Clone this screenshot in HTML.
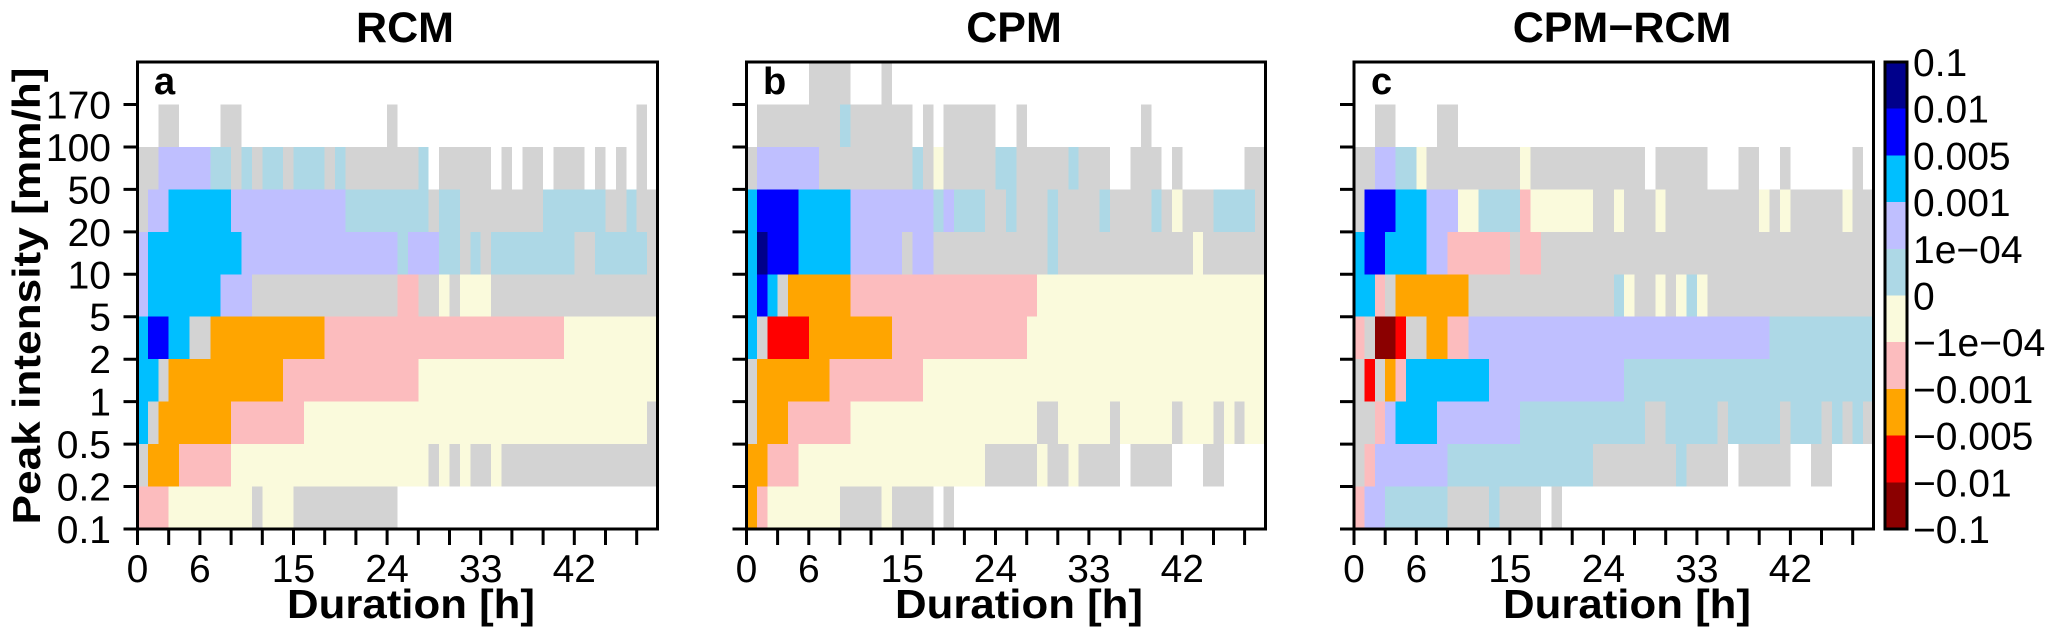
<!DOCTYPE html>
<html><head><meta charset="utf-8"><style>
body{margin:0;background:#fff}
svg{display:block;font-family:"Liberation Sans",Arial,sans-serif}
.G{fill:#d3d3d3}.L{fill:#bfbfff}.C{fill:#add8e6}.S{fill:#00bfff}.B{fill:#0000ff}.N{fill:#00008b}
.Y{fill:#fafadc}.P{fill:#fcbcbe}.O{fill:#ffa500}.R{fill:#ff0000}.D{fill:#8b0000}
.t{font-size:39px}.b{font-weight:bold}
</style></head><body>
<svg width="2050" height="642" viewBox="0 0 2050 642" xmlns="http://www.w3.org/2000/svg">
<!-- Panel a -->
<g transform="translate(137.5,62) scale(10.4,42.45)" shape-rendering="crispEdges">
<rect class="G" x="2" y="1" width="2" height="1"/><rect class="G" x="8" y="1" width="2" height="1"/><rect class="G" x="24" y="1" width="1" height="1"/><rect class="G" x="48" y="1" width="1" height="1"/>
<rect class="G" x="0" y="2" width="2" height="1"/><rect class="L" x="2" y="2" width="5" height="1"/><rect class="C" x="7" y="2" width="2" height="1"/><rect class="G" x="9" y="2" width="1" height="1"/><rect class="C" x="10" y="2" width="1" height="1"/><rect class="G" x="11" y="2" width="1" height="1"/><rect class="C" x="12" y="2" width="2" height="1"/><rect class="G" x="14" y="2" width="1" height="1"/><rect class="C" x="15" y="2" width="3" height="1"/><rect class="G" x="18" y="2" width="1" height="1"/><rect class="C" x="19" y="2" width="1" height="1"/><rect class="G" x="20" y="2" width="7" height="1"/><rect class="C" x="27" y="2" width="1" height="1"/><rect class="G" x="29" y="2" width="5" height="1"/><rect class="G" x="35" y="2" width="1" height="1"/><rect class="G" x="37" y="2" width="2" height="1"/><rect class="G" x="40" y="2" width="3" height="1"/><rect class="G" x="44" y="2" width="1" height="1"/><rect class="G" x="46" y="2" width="1" height="1"/><rect class="G" x="48" y="2" width="1" height="1"/>
<rect class="G" x="0" y="3" width="1" height="1"/><rect class="L" x="1" y="3" width="2" height="1"/><rect class="S" x="3" y="3" width="6" height="1"/><rect class="L" x="9" y="3" width="11" height="1"/><rect class="C" x="20" y="3" width="8" height="1"/><rect class="G" x="28" y="3" width="1" height="1"/><rect class="C" x="29" y="3" width="2" height="1"/><rect class="G" x="31" y="3" width="8" height="1"/><rect class="C" x="39" y="3" width="6" height="1"/><rect class="G" x="45" y="3" width="2" height="1"/><rect class="C" x="47" y="3" width="1" height="1"/><rect class="G" x="48" y="3" width="2" height="1"/>
<rect class="L" x="0" y="4" width="1" height="1"/><rect class="S" x="1" y="4" width="9" height="1"/><rect class="L" x="10" y="4" width="15" height="1"/><rect class="C" x="25" y="4" width="1" height="1"/><rect class="L" x="26" y="4" width="3" height="1"/><rect class="C" x="29" y="4" width="2" height="1"/><rect class="G" x="31" y="4" width="1" height="1"/><rect class="C" x="32" y="4" width="1" height="1"/><rect class="G" x="33" y="4" width="1" height="1"/><rect class="C" x="34" y="4" width="8" height="1"/><rect class="G" x="42" y="4" width="2" height="1"/><rect class="C" x="44" y="4" width="5" height="1"/><rect class="G" x="49" y="4" width="1" height="1"/>
<rect class="L" x="0" y="5" width="1" height="1"/><rect class="S" x="1" y="5" width="7" height="1"/><rect class="L" x="8" y="5" width="3" height="1"/><rect class="G" x="11" y="5" width="14" height="1"/><rect class="P" x="25" y="5" width="2" height="1"/><rect class="G" x="27" y="5" width="2" height="1"/><rect class="Y" x="29" y="5" width="1" height="1"/><rect class="G" x="30" y="5" width="1" height="1"/><rect class="Y" x="31" y="5" width="3" height="1"/><rect class="G" x="34" y="5" width="16" height="1"/>
<rect class="S" x="0" y="6" width="1" height="1"/><rect class="B" x="1" y="6" width="2" height="1"/><rect class="S" x="3" y="6" width="2" height="1"/><rect class="G" x="5" y="6" width="2" height="1"/><rect class="O" x="7" y="6" width="11" height="1"/><rect class="P" x="18" y="6" width="23" height="1"/><rect class="Y" x="41" y="6" width="9" height="1"/>
<rect class="S" x="0" y="7" width="2" height="1"/><rect class="G" x="2" y="7" width="1" height="1"/><rect class="O" x="3" y="7" width="11" height="1"/><rect class="P" x="14" y="7" width="13" height="1"/><rect class="Y" x="27" y="7" width="23" height="1"/>
<rect class="S" x="0" y="8" width="1" height="1"/><rect class="G" x="1" y="8" width="1" height="1"/><rect class="O" x="2" y="8" width="7" height="1"/><rect class="P" x="9" y="8" width="7" height="1"/><rect class="Y" x="16" y="8" width="33" height="1"/><rect class="G" x="49" y="8" width="1" height="1"/>
<rect class="G" x="0" y="9" width="1" height="1"/><rect class="O" x="1" y="9" width="3" height="1"/><rect class="P" x="4" y="9" width="5" height="1"/><rect class="Y" x="9" y="9" width="19" height="1"/><rect class="G" x="28" y="9" width="1" height="1"/><rect class="Y" x="29" y="9" width="1" height="1"/><rect class="G" x="30" y="9" width="1" height="1"/><rect class="Y" x="31" y="9" width="1" height="1"/><rect class="G" x="32" y="9" width="2" height="1"/><rect class="Y" x="34" y="9" width="1" height="1"/><rect class="G" x="35" y="9" width="15" height="1"/>
<rect class="P" x="0" y="10" width="3" height="1"/><rect class="Y" x="3" y="10" width="8" height="1"/><rect class="G" x="11" y="10" width="1" height="1"/><rect class="Y" x="12" y="10" width="3" height="1"/><rect class="G" x="15" y="10" width="10" height="1"/>
</g>
<!-- Panel b -->
<g transform="translate(746.5,62) scale(10.38,42.45)" shape-rendering="crispEdges">
<rect class="G" x="6" y="0" width="4" height="1"/><rect class="G" x="13" y="0" width="1" height="1"/>
<rect class="G" x="1" y="1" width="8" height="1"/><rect class="C" x="9" y="1" width="1" height="1"/><rect class="G" x="10" y="1" width="6" height="1"/><rect class="G" x="17" y="1" width="1" height="1"/><rect class="G" x="19" y="1" width="5" height="1"/><rect class="G" x="26" y="1" width="1" height="1"/><rect class="G" x="38" y="1" width="1" height="1"/>
<rect class="G" x="0" y="2" width="1" height="1"/><rect class="L" x="1" y="2" width="6" height="1"/><rect class="G" x="7" y="2" width="9" height="1"/><rect class="C" x="16" y="2" width="1" height="1"/><rect class="G" x="17" y="2" width="1" height="1"/><rect class="Y" x="18" y="2" width="1" height="1"/><rect class="G" x="19" y="2" width="5" height="1"/><rect class="C" x="24" y="2" width="2" height="1"/><rect class="G" x="26" y="2" width="5" height="1"/><rect class="C" x="31" y="2" width="1" height="1"/><rect class="G" x="32" y="2" width="3" height="1"/><rect class="G" x="37" y="2" width="3" height="1"/><rect class="G" x="41" y="2" width="1" height="1"/><rect class="G" x="48" y="2" width="2" height="1"/>
<rect class="S" x="0" y="3" width="1" height="1"/><rect class="B" x="1" y="3" width="4" height="1"/><rect class="S" x="5" y="3" width="5" height="1"/><rect class="L" x="10" y="3" width="8" height="1"/><rect class="C" x="18" y="3" width="1" height="1"/><rect class="L" x="19" y="3" width="1" height="1"/><rect class="C" x="20" y="3" width="3" height="1"/><rect class="G" x="23" y="3" width="2" height="1"/><rect class="C" x="25" y="3" width="1" height="1"/><rect class="G" x="26" y="3" width="3" height="1"/><rect class="C" x="29" y="3" width="1" height="1"/><rect class="G" x="30" y="3" width="4" height="1"/><rect class="C" x="34" y="3" width="1" height="1"/><rect class="G" x="35" y="3" width="4" height="1"/><rect class="C" x="39" y="3" width="1" height="1"/><rect class="G" x="40" y="3" width="1" height="1"/><rect class="Y" x="41" y="3" width="1" height="1"/><rect class="G" x="42" y="3" width="3" height="1"/><rect class="C" x="45" y="3" width="4" height="1"/><rect class="G" x="49" y="3" width="1" height="1"/>
<rect class="S" x="0" y="4" width="1" height="1"/><rect class="N" x="1" y="4" width="1" height="1"/><rect class="B" x="2" y="4" width="3" height="1"/><rect class="S" x="5" y="4" width="5" height="1"/><rect class="L" x="10" y="4" width="5" height="1"/><rect class="G" x="15" y="4" width="1" height="1"/><rect class="L" x="16" y="4" width="2" height="1"/><rect class="G" x="18" y="4" width="11" height="1"/><rect class="C" x="29" y="4" width="1" height="1"/><rect class="G" x="30" y="4" width="13" height="1"/><rect class="Y" x="43" y="4" width="1" height="1"/><rect class="G" x="44" y="4" width="6" height="1"/>
<rect class="S" x="0" y="5" width="1" height="1"/><rect class="B" x="1" y="5" width="1" height="1"/><rect class="S" x="2" y="5" width="1" height="1"/><rect class="G" x="3" y="5" width="1" height="1"/><rect class="O" x="4" y="5" width="6" height="1"/><rect class="P" x="10" y="5" width="18" height="1"/><rect class="Y" x="28" y="5" width="22" height="1"/>
<rect class="S" x="0" y="6" width="1" height="1"/><rect class="G" x="1" y="6" width="1" height="1"/><rect class="R" x="2" y="6" width="4" height="1"/><rect class="O" x="6" y="6" width="8" height="1"/><rect class="P" x="14" y="6" width="13" height="1"/><rect class="Y" x="27" y="6" width="23" height="1"/>
<rect class="G" x="0" y="7" width="1" height="1"/><rect class="O" x="1" y="7" width="7" height="1"/><rect class="P" x="8" y="7" width="9" height="1"/><rect class="Y" x="17" y="7" width="33" height="1"/>
<rect class="G" x="0" y="8" width="1" height="1"/><rect class="O" x="1" y="8" width="3" height="1"/><rect class="P" x="4" y="8" width="6" height="1"/><rect class="Y" x="10" y="8" width="18" height="1"/><rect class="G" x="28" y="8" width="2" height="1"/><rect class="Y" x="30" y="8" width="5" height="1"/><rect class="G" x="35" y="8" width="1" height="1"/><rect class="Y" x="36" y="8" width="5" height="1"/><rect class="G" x="41" y="8" width="1" height="1"/><rect class="Y" x="42" y="8" width="3" height="1"/><rect class="G" x="45" y="8" width="1" height="1"/><rect class="Y" x="46" y="8" width="1" height="1"/><rect class="G" x="47" y="8" width="1" height="1"/><rect class="Y" x="48" y="8" width="2" height="1"/>
<rect class="O" x="0" y="9" width="2" height="1"/><rect class="P" x="2" y="9" width="3" height="1"/><rect class="Y" x="5" y="9" width="18" height="1"/><rect class="G" x="23" y="9" width="5" height="1"/><rect class="Y" x="28" y="9" width="1" height="1"/><rect class="G" x="29" y="9" width="2" height="1"/><rect class="Y" x="31" y="9" width="1" height="1"/><rect class="G" x="32" y="9" width="4" height="1"/><rect class="G" x="37" y="9" width="4" height="1"/><rect class="G" x="44" y="9" width="2" height="1"/>
<rect class="O" x="0" y="10" width="1" height="1"/><rect class="P" x="1" y="10" width="1" height="1"/><rect class="Y" x="2" y="10" width="7" height="1"/><rect class="G" x="9" y="10" width="4" height="1"/><rect class="Y" x="13" y="10" width="1" height="1"/><rect class="G" x="14" y="10" width="4" height="1"/><rect class="G" x="19" y="10" width="1" height="1"/>
</g>
<!-- Panel c -->
<g transform="translate(1354,62) scale(10.39,42.45)" shape-rendering="crispEdges">
<rect class="G" x="2" y="1" width="2" height="1"/><rect class="G" x="8" y="1" width="2" height="1"/>
<rect class="G" x="0" y="2" width="2" height="1"/><rect class="L" x="2" y="2" width="2" height="1"/><rect class="C" x="4" y="2" width="2" height="1"/><rect class="Y" x="6" y="2" width="1" height="1"/><rect class="G" x="7" y="2" width="9" height="1"/><rect class="Y" x="16" y="2" width="1" height="1"/><rect class="G" x="17" y="2" width="11" height="1"/><rect class="G" x="29" y="2" width="5" height="1"/><rect class="G" x="37" y="2" width="2" height="1"/><rect class="G" x="41" y="2" width="1" height="1"/><rect class="G" x="48" y="2" width="1" height="1"/>
<rect class="G" x="0" y="3" width="1" height="1"/><rect class="B" x="1" y="3" width="3" height="1"/><rect class="S" x="4" y="3" width="3" height="1"/><rect class="L" x="7" y="3" width="3" height="1"/><rect class="Y" x="10" y="3" width="2" height="1"/><rect class="C" x="12" y="3" width="4" height="1"/><rect class="P" x="16" y="3" width="1" height="1"/><rect class="Y" x="17" y="3" width="6" height="1"/><rect class="G" x="23" y="3" width="2" height="1"/><rect class="Y" x="25" y="3" width="1" height="1"/><rect class="G" x="26" y="3" width="3" height="1"/><rect class="Y" x="29" y="3" width="1" height="1"/><rect class="G" x="30" y="3" width="9" height="1"/><rect class="Y" x="39" y="3" width="1" height="1"/><rect class="G" x="40" y="3" width="1" height="1"/><rect class="Y" x="41" y="3" width="1" height="1"/><rect class="G" x="42" y="3" width="5" height="1"/><rect class="Y" x="47" y="3" width="1" height="1"/><rect class="G" x="48" y="3" width="2" height="1"/>
<rect class="S" x="0" y="4" width="1" height="1"/><rect class="B" x="1" y="4" width="2" height="1"/><rect class="S" x="3" y="4" width="4" height="1"/><rect class="L" x="7" y="4" width="2" height="1"/><rect class="P" x="9" y="4" width="6" height="1"/><rect class="G" x="15" y="4" width="1" height="1"/><rect class="P" x="16" y="4" width="2" height="1"/><rect class="G" x="18" y="4" width="32" height="1"/>
<rect class="S" x="0" y="5" width="2" height="1"/><rect class="P" x="2" y="5" width="1" height="1"/><rect class="G" x="3" y="5" width="1" height="1"/><rect class="O" x="4" y="5" width="7" height="1"/><rect class="G" x="11" y="5" width="14" height="1"/><rect class="C" x="25" y="5" width="1" height="1"/><rect class="Y" x="26" y="5" width="1" height="1"/><rect class="G" x="27" y="5" width="2" height="1"/><rect class="Y" x="29" y="5" width="1" height="1"/><rect class="G" x="30" y="5" width="1" height="1"/><rect class="Y" x="31" y="5" width="1" height="1"/><rect class="C" x="32" y="5" width="1" height="1"/><rect class="Y" x="33" y="5" width="1" height="1"/><rect class="G" x="34" y="5" width="16" height="1"/>
<rect class="P" x="0" y="6" width="1" height="1"/><rect class="G" x="1" y="6" width="1" height="1"/><rect class="D" x="2" y="6" width="2" height="1"/><rect class="R" x="4" y="6" width="1" height="1"/><rect class="G" x="5" y="6" width="2" height="1"/><rect class="O" x="7" y="6" width="2" height="1"/><rect class="P" x="9" y="6" width="2" height="1"/><rect class="L" x="11" y="6" width="29" height="1"/><rect class="C" x="40" y="6" width="10" height="1"/>
<rect class="G" x="0" y="7" width="1" height="1"/><rect class="R" x="1" y="7" width="1" height="1"/><rect class="G" x="2" y="7" width="1" height="1"/><rect class="O" x="3" y="7" width="1" height="1"/><rect class="P" x="4" y="7" width="1" height="1"/><rect class="S" x="5" y="7" width="8" height="1"/><rect class="L" x="13" y="7" width="13" height="1"/><rect class="C" x="26" y="7" width="24" height="1"/>
<rect class="G" x="0" y="8" width="2" height="1"/><rect class="P" x="2" y="8" width="1" height="1"/><rect class="L" x="3" y="8" width="1" height="1"/><rect class="S" x="4" y="8" width="4" height="1"/><rect class="L" x="8" y="8" width="8" height="1"/><rect class="C" x="16" y="8" width="12" height="1"/><rect class="G" x="28" y="8" width="2" height="1"/><rect class="C" x="30" y="8" width="5" height="1"/><rect class="G" x="35" y="8" width="1" height="1"/><rect class="C" x="36" y="8" width="5" height="1"/><rect class="G" x="41" y="8" width="1" height="1"/><rect class="C" x="42" y="8" width="3" height="1"/><rect class="G" x="45" y="8" width="1" height="1"/><rect class="C" x="46" y="8" width="1" height="1"/><rect class="G" x="47" y="8" width="1" height="1"/><rect class="C" x="48" y="8" width="1" height="1"/><rect class="G" x="49" y="8" width="1" height="1"/>
<rect class="G" x="0" y="9" width="1" height="1"/><rect class="P" x="1" y="9" width="1" height="1"/><rect class="L" x="2" y="9" width="7" height="1"/><rect class="C" x="9" y="9" width="14" height="1"/><rect class="G" x="23" y="9" width="8" height="1"/><rect class="C" x="31" y="9" width="1" height="1"/><rect class="G" x="32" y="9" width="4" height="1"/><rect class="G" x="37" y="9" width="5" height="1"/><rect class="G" x="44" y="9" width="2" height="1"/>
<rect class="P" x="0" y="10" width="1" height="1"/><rect class="L" x="1" y="10" width="2" height="1"/><rect class="C" x="3" y="10" width="6" height="1"/><rect class="G" x="9" y="10" width="4" height="1"/><rect class="C" x="13" y="10" width="1" height="1"/><rect class="G" x="14" y="10" width="4" height="1"/><rect class="G" x="19" y="10" width="1" height="1"/>
</g>

<!-- frames -->
<g fill="none" stroke="#000" stroke-width="3">
<rect x="137.5" y="62" width="520" height="467"/>
<rect x="746.5" y="62" width="519" height="467"/>
<rect x="1354" y="62" width="519.5" height="467"/>
</g>

<!-- ticks -->
<g stroke="#000" stroke-width="3">
<path d="M123.5 529H137.5M123.5 486.55H137.5M123.5 444.1H137.5M123.5 401.65H137.5M123.5 359.2H137.5M123.5 316.75H137.5M123.5 274.3H137.5M123.5 231.85H137.5M123.5 189.4H137.5M123.5 146.95H137.5M123.5 104.5H137.5"/>
<path d="M732.5 529H746.5M732.5 486.55H746.5M732.5 444.1H746.5M732.5 401.65H746.5M732.5 359.2H746.5M732.5 316.75H746.5M732.5 274.3H746.5M732.5 231.85H746.5M732.5 189.4H746.5M732.5 146.95H746.5M732.5 104.5H746.5"/>
<path d="M1340 529H1354M1340 486.55H1354M1340 444.1H1354M1340 401.65H1354M1340 359.2H1354M1340 316.75H1354M1340 274.3H1354M1340 231.85H1354M1340 189.4H1354M1340 146.95H1354M1340 104.5H1354"/>
<path d="M137.5 529v16M168.7 529v16M199.9 529v16M231.1 529v16M262.3 529v16M293.5 529v16M324.7 529v16M355.9 529v16M387.1 529v16M418.3 529v16M449.5 529v16M480.7 529v16M511.9 529v16M543.1 529v16M574.3 529v16M605.5 529v16M636.7 529v16"/>
<path d="M746.5 529v16M777.6 529v16M808.8 529v16M839.9 529v16M871 529v16M902.2 529v16M933.3 529v16M964.4 529v16M995.5 529v16M1026.7 529v16M1057.8 529v16M1088.9 529v16M1120.1 529v16M1151.2 529v16M1182.3 529v16M1213.5 529v16M1244.6 529v16"/>
<path d="M1354 529v16M1385.2 529v16M1416.3 529v16M1447.5 529v16M1478.7 529v16M1509.9 529v16M1541 529v16M1572.2 529v16M1603.4 529v16M1634.5 529v16M1665.7 529v16M1696.9 529v16M1728 529v16M1759.2 529v16M1790.4 529v16M1821.5 529v16M1852.7 529v16"/>
</g>

<!-- y tick labels -->
<g class="t" text-anchor="end">
<text x="111" y="543">0.1</text><text x="111" y="500.5">0.2</text><text x="111" y="458">0.5</text><text x="111" y="415.6">1</text><text x="111" y="373.2">2</text><text x="111" y="330.7">5</text><text x="111" y="288.3">10</text><text x="111" y="245.8">20</text><text x="111" y="203.4">50</text><text x="111" y="160.9">100</text><text x="111" y="118.5">170</text>
</g>
<!-- x tick labels -->
<g class="t" text-anchor="middle">
<text x="137.5" y="582">0</text><text x="199.9" y="582">6</text><text x="293.5" y="582">15</text><text x="387.1" y="582">24</text><text x="480.7" y="582">33</text><text x="574.3" y="582">42</text>
<text x="746.5" y="582">0</text><text x="808.8" y="582">6</text><text x="902.2" y="582">15</text><text x="995.5" y="582">24</text><text x="1088.9" y="582">33</text><text x="1182.3" y="582">42</text>
<text x="1354" y="582">0</text><text x="1416.3" y="582">6</text><text x="1509.9" y="582">15</text><text x="1603.4" y="582">24</text><text x="1696.9" y="582">33</text><text x="1790.4" y="582">42</text>
</g>
<!-- axis labels & titles -->
<g class="b" text-anchor="middle">
<text x="411" y="618" font-size="41" textLength="248" lengthAdjust="spacingAndGlyphs">Duration [h]</text>
<text x="1019" y="618" font-size="41" textLength="248" lengthAdjust="spacingAndGlyphs">Duration [h]</text>
<text x="1627" y="618" font-size="41" textLength="248" lengthAdjust="spacingAndGlyphs">Duration [h]</text>
<text x="405" y="42" font-size="43">RCM</text>
<text x="1014" y="42" font-size="43">CPM</text>
<text x="1622" y="42" font-size="43">CPM−RCM</text>
<text transform="translate(40,296) rotate(-90)" font-size="39" textLength="457" lengthAdjust="spacingAndGlyphs">Peak intensity [mm/h]</text>
</g>
<g class="b" font-size="38">
<text x="154" y="94">a</text><text x="763" y="94">b</text><text x="1371" y="94">c</text>
</g>

<!-- colorbar -->
<g shape-rendering="crispEdges">
<rect class="N" x="1885" y="62" width="22" height="46.7"/>
<rect class="B" x="1885" y="108.7" width="22" height="46.7"/>
<rect class="S" x="1885" y="155.4" width="22" height="46.7"/>
<rect class="L" x="1885" y="202.1" width="22" height="46.7"/>
<rect class="C" x="1885" y="248.8" width="22" height="46.7"/>
<rect class="Y" x="1885" y="295.5" width="22" height="46.7"/>
<rect class="P" x="1885" y="342.2" width="22" height="46.7"/>
<rect class="O" x="1885" y="388.9" width="22" height="46.7"/>
<rect class="R" x="1885" y="435.6" width="22" height="46.7"/>
<rect class="D" x="1885" y="482.3" width="22" height="46.7"/>
</g>
<rect x="1885" y="62" width="22" height="467" fill="none" stroke="#000" stroke-width="3"/>
<g class="t">
<text x="1913" y="76">0.1</text><text x="1913" y="122.7">0.01</text><text x="1913" y="169.4">0.005</text><text x="1913" y="216.1">0.001</text><text x="1913" y="262.8">1e−04</text><text x="1913" y="309.5">0</text><text x="1913" y="356.2">−1e−04</text><text x="1913" y="402.9">−0.001</text><text x="1913" y="449.6">−0.005</text><text x="1913" y="496.3">−0.01</text><text x="1913" y="543">−0.1</text>
</g>
</svg>
</body></html>
